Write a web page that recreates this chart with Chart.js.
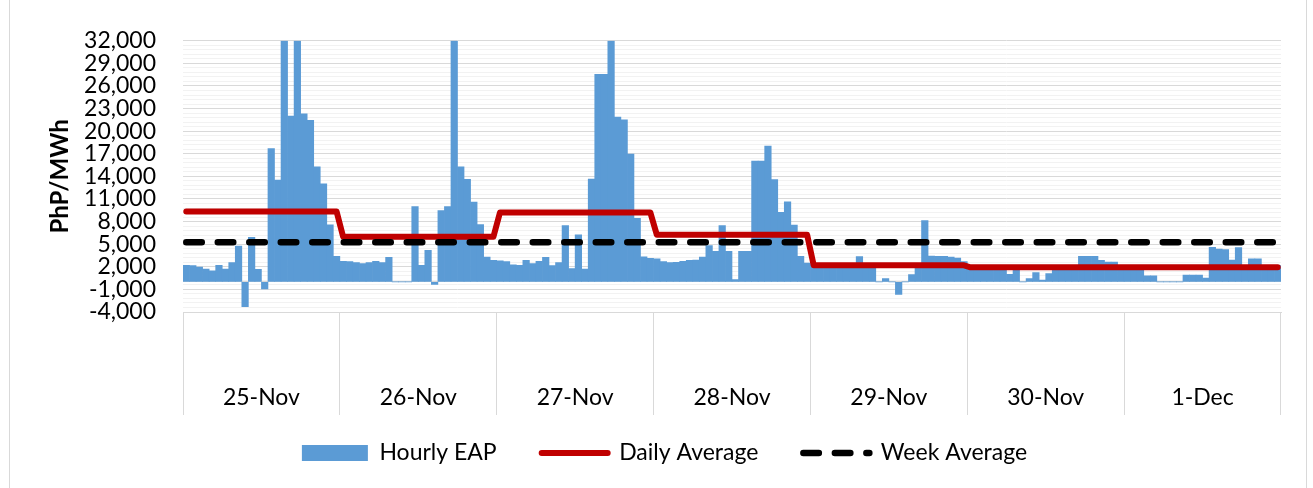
<!DOCTYPE html>
<html>
<head>
<meta charset="utf-8">
<script src="https://cdn.jsdelivr.net/npm/chart.js@4.4.1/dist/chart.umd.min.js"></script>
<style>
    html, body { margin: 0; padding: 0; background: #FFFFFF; overflow: hidden; }
    #EapChart { display: block; }
</style>
</head>
<body>
<canvas id="EapChart" width="1313" height="488"></canvas>
<script>
const days = ['25-Nov', '26-Nov', '27-Nov', '28-Nov', '29-Nov', '30-Nov', '1-Dec'];
const hours = [0, 1, 2, 3, 4, 5, 6, 7, 8, 9, 10, 11, 12, 13, 14, 15, 16, 17, 18, 19, 20, 21, 22, 23];

// Hourly EAP (PhP/MWh), one array per trading day
const eap_25nov = [2200, 2150, 1950, 1700, 1450, 2200, 1700, 2550, 4750, -3300, 5900, 1670, -920, 17700, 13500, 32000, 22000, 32000, 22300, 21430, 15270, 13020, 7570, 3390];
const eap_26nov = [2730, 2680, 2550, 2420, 2550, 2730, 2550, 3260, 0, 0, 0, 9990, 2200, 4180, -350, 9460, 9990, 32000, 15270, 13600, 10600, 7610, 3300, 2860];
const eap_27nov = [2780, 2700, 2250, 2200, 2860, 2420, 2730, 3260, 2150, 2570, 7480, 1780, 6250, 1700, 13650, 27550, 27550, 32000, 21860, 21520, 16950, 8440, 3340, 3120];
const eap_28nov = [3070, 2700, 2550, 2600, 2720, 2850, 2900, 3290, 4830, 4040, 7470, 4040, 300, 4040, 4040, 16040, 16040, 18020, 13580, 9230, 10630, 7550, 3380, 2500];
const eap_29nov = [2300, 2250, 2200, 2150, 2100, 2150, 2200, 3370, 2250, 2200, 0, 420, 0, -1680, 0, 970, 2150, 8130, 3420, 3400, 3380, 3300, 3150, 2700];
const eap_30nov = [2000, 1950, 1900, 1950, 2000, 1950, 1000, 2000, 0, 440, 1230, 250, 1100, 1950, 2000, 2050, 2000, 3390, 3390, 3390, 2860, 2640, 2640, 2000];
const eap_1dec = [2150, 2200, 2150, 800, 800, 0, 0, 0, 0, 900, 900, 900, 500, 4600, 4350, 4300, 2880, 4550, 2150, 3050, 3050, 2150, 2200, 2150];

const daily_avg = [9350, 6000, 9220, 6240, 2190, 1930, 1930];
const week_avg = 5260;

const y_ticks_min = -4000;
const y_ticks_max = 32000;

function build_series() {
    const by_day = [eap_25nov, eap_26nov, eap_27nov, eap_28nov, eap_29nov, eap_30nov, eap_1dec];
    const labels = [], hourly = [], daily = [], week = [];
    days.forEach((day, i) => {
        hours.forEach((h, j) => {
            labels.push(day + ' ' + h + ':00');
            hourly.push(by_day[i][j]);
            daily.push(daily_avg[i]);
            week.push(week_avg);
        });
    });
    return { labels, hourly, daily, week };
}

// light frame left and right of the chart object
const framePlugin = {
    id: 'frame',
    beforeDraw(chart) {
        const c = chart.ctx;
        c.save();
        c.strokeStyle = '#D9D9D9';
        c.lineWidth = 1;
        c.beginPath();
        c.moveTo(9.5, 0); c.lineTo(9.5, chart.height);
        c.moveTo(1306.5, 0); c.lineTo(1306.5, chart.height);
        c.stroke();
        c.restore();
    },
    // legend padding is also its row gap, so lift the legend a bit
    afterLayout(chart) {
        const lg = chart.legend;
        if (!lg) return;
        const dy = 396.5 - lg.top;
        lg.top += dy;
        lg.bottom += dy;
    }
};

function graph_eap_week() {
    const ctx = document.getElementById("EapChart").getContext("2d");
    const s = build_series();
    const font = { family: 'Lato', size: 23 };

    new Chart(ctx, {
        type: 'bar',
        data: {
            labels: s.labels,
            datasets: [
                {
                    label: 'Hourly EAP',
                    data: s.hourly,
                    backgroundColor: '#5B9BD5',
                    borderWidth: 0,
                    barPercentage: 1,
                    categoryPercentage: 1,
                    order: 3
                },
                {
                    type: 'line',
                    label: 'Daily Average',
                    data: s.daily,
                    borderColor: '#C00000',
                    backgroundColor: '#C00000',
                    borderWidth: 6,
                    borderCapStyle: 'round',
                    borderJoinStyle: 'round',
                    pointRadius: 0,
                    fill: false,
                    order: 2
                },
                {
                    type: 'line',
                    label: 'Week Average',
                    data: s.week,
                    borderColor: '#000000',
                    backgroundColor: '#000000',
                    borderWidth: 6.5,
                    borderDash: [15.5, 16],
                    borderCapStyle: 'round',
                    pointRadius: 0,
                    fill: false,
                    order: 1
                }
            ]
        },
        options: {
            responsive: false,
            animation: false,
            layout: {
                padding: { top: 39, left: 48, right: 32, bottom: 0 }
            },
            plugins: {
                tooltip: { enabled: false },
                legend: {
                    display: true,
                    position: 'bottom',
                    maxHeight: 73,
                    labels: {
                        usePointStyle: true,
                        pointStyleWidth: 66,
                        boxHeight: 16,
                        padding: 45,
                        color: '#000000',
                        font: font,
                        sort: (a, b) => a.datasetIndex - b.datasetIndex,
                        generateLabels(chart) {
                            const items = Chart.defaults.plugins.legend.labels.generateLabels(chart);
                            items.forEach(it => {
                                const ds = chart.data.datasets[it.datasetIndex];
                                if (it.datasetIndex === 0) {
                                    it.pointStyle = 'rect';
                                    it.lineWidth = 0;
                                } else {
                                    it.pointStyle = 'line';
                                    it.lineWidth = ds.borderWidth;
                                    it.lineDash = ds.borderDash || [];
                                    it.lineCap = 'round';
                                    it.strokeStyle = ds.borderColor;
                                }
                            });
                            return items;
                        }
                    }
                }
            },
            scales: {
                x: {
                    display: false
                },
                days: {
                    type: 'category',
                    position: 'bottom',
                    labels: days,
                    offset: true,
                    afterFit(scale) { scale.height = 103; },
                    grid: {
                        offset: true,
                        drawOnChartArea: false,
                        tickLength: 103,
                        color: '#D9D9D9',
                        tickColor: '#D9D9D9'
                    },
                    border: { display: true, color: '#D9D9D9' },
                    ticks: {
                        padding: -31,
                        autoSkip: false,
                        maxRotation: 0,
                        color: '#000000',
                        font: font
                    }
                },
                y: {
                    min: y_ticks_min,
                    max: y_ticks_max,
                    afterFit(scale) { scale.width = 135; },
                    afterBuildTicks(scale) {
                        // Excel draws the horizontal axis line at zero
                        scale.ticks.push({ value: 0 });
                        scale.ticks.sort((a, b) => a.value - b.value);
                    },
                    ticks: {
                        stepSize: 600,
                        autoSkip: false,
                        padding: 27,
                        color: '#000000',
                        font: font,
                        callback: (v) => (v - y_ticks_min) % 3000 === 0 ? v.toLocaleString('en-US') : ''
                    },
                    grid: {
                        drawTicks: false,
                        color: (c) => (c.tick && (c.tick.value === 0 || (c.tick.value - y_ticks_min) % 3000 === 0)) ? '#D9D9D9' : '#F2F2F2'
                    },
                    border: { display: false },
                    title: {
                        display: true,
                        text: 'PhP/MWh',
                        color: '#000000',
                        font: { family: 'Lato', size: 24, weight: 'bold', lineHeight: 1 },
                        padding: { top: 0, bottom: 0 }
                    }
                }
            }
        },
        plugins: [framePlugin]
    });
}

graph_eap_week();
</script>
</body>
</html>
